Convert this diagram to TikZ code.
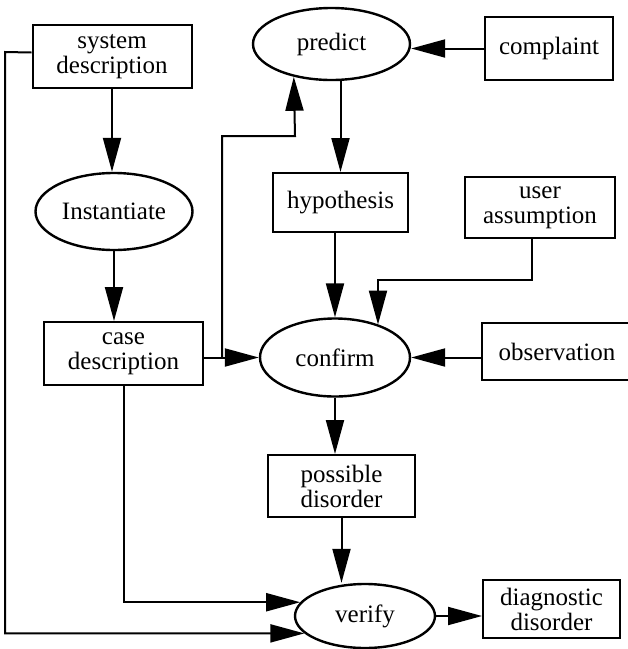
\documentclass[tikz,border=0pt]{standalone}
\usepackage{fontspec}
\setmainfont{Liberation Serif}
\usetikzlibrary{shapes.geometric,arrows.meta}

\begin{document}
\begin{tikzpicture}[x=1pt, y=-1pt, >={Triangle[length=34pt,width=18pt]},
  boite/.style={draw, line width=2pt, inner sep=0pt, align=center,
    font=\fontsize{25}{25}\selectfont},
  ovale/.style={draw, ellipse, line width=2.4pt, inner sep=0pt,
    font=\fontsize{25}{25}\selectfont},
  fleche/.style={->, line width=2pt}]
  % cadre de l'image
  \useasboundingbox (0,0) rectangle (628,649);
  % colonne de gauche
  \node[boite, minimum width=159pt, minimum height=63pt] (sys) at (112,56.5) {system\\description};
  \node[ovale, minimum width=157pt, minimum height=77pt] (inst) at (114,211.5) {Instantiate};
  \node[boite, minimum width=159pt, minimum height=63pt] (case) at (123.5,353.5) {case\\description};
  % colonne du milieu
  \node[ovale, minimum width=157pt, minimum height=72pt] (pred) at (331.5,44) {predict};
  \node[boite, minimum width=135pt, minimum height=59pt] (hyp) at (340.5,202.5) {hypothesis};
  \node[ovale, minimum width=150pt, minimum height=78pt] (conf) at (335,357.5) {confirm};
  \node[boite, minimum width=147pt, minimum height=62pt] (poss) at (341.5,486) {possible\\disorder};
  \node[ovale, minimum width=140pt, minimum height=64pt] (ver) at (365,616) {verify};
  % colonne de droite
  \node[boite, minimum width=128pt, minimum height=63pt] (compl) at (549,48.5) {complaint};
  \node[boite, minimum width=150pt, minimum height=61pt] (user) at (540,207.5) {user\\assumption};
  \node[boite, minimum width=150pt, minimum height=57pt, text width=140pt] (obs) at (557,351.5) {observation\hspace*{10pt}};
  \node[boite, minimum width=137pt, minimum height=58pt] (diag) at (551.5,609) {diagnostic\\disorder};
  % points de passage
  \coordinate (cp) at (222,136);
  \coordinate (pp) at (295,136);
  \coordinate (ua) at (378,280);
  \coordinate (gauche) at (5,52);
  % flèches
  \draw[fleche] (sys.south) -- (sys.south |- inst.north);
  \draw[fleche] (inst.south) -- (inst.south |- case.north);
  \draw[fleche] (case.east |- conf.west) -- (conf.west);
  \draw[fleche] (cp |- conf.west) -- (cp) -- (pp) -- (pred.221);
  \draw[fleche] (compl.west) -- (compl.west -| pred.east);
  \draw[fleche] (pred.south -| hyp) -- (hyp.north);
  \draw[fleche] (hyp.south -| conf.north) -- (conf.north);
  \draw[fleche] ([xshift=-8pt]user.south) |- (ua) -- (conf.37 -| ua);
  \draw[fleche] (obs.west |- conf) -- (conf.east);
  \draw[fleche] (conf.south) -- (conf.south |- poss.north);
  \draw[fleche] (poss.south) -- (poss.south |- ver.north);
  \draw[fleche] (case.south) |- (ver.168);
  \draw[fleche] ([yshift=4pt]sys.west) -- (gauche) |- (ver.196);
  \draw[fleche] (ver.east) -- (ver.east -| diag.west);
\end{tikzpicture}
\end{document}
